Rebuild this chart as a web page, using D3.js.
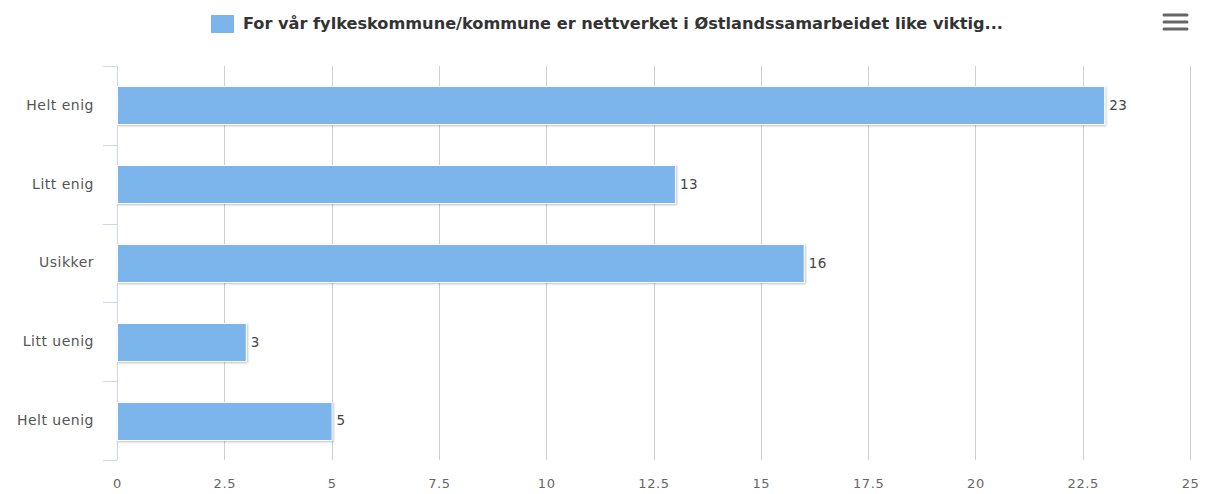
<!DOCTYPE html>
<html>
<head>
<meta charset="utf-8">
<script src="https://cdn.jsdelivr.net/npm/d3@7"></script>
<style>
  body { margin: 0; background: #fff; }
  svg { display: block; font-family: "DejaVu Sans", sans-serif; }
</style>
</head>
<body>
<div id="chart"></div>
<script>
// data
var categories = ["Helt enig", "Litt enig", "Usikker", "Litt uenig", "Helt uenig"];
var values = [23, 13, 16, 3, 5];
var xTicks = [0, 2.5, 5, 7.5, 10, 12.5, 15, 17.5, 20, 22.5, 25];
var seriesName = "For vår fylkeskommune/kommune er nettverket i Østlandssamarbeidet like viktig...";

var W = 1207, H = 494;
var margin = {top: 66, right: 17, bottom: 34, left: 117},
    width = W - margin.left - margin.right,
    height = H - margin.top - margin.bottom;

var svg = d3.select("#chart").append("svg")
    .attr("width", W)
    .attr("height", H);

var defs = svg.append("defs");
var f = defs.append("filter").attr("id", "shadow")
  .attr("x", "-10%").attr("y", "-20%").attr("width", "120%").attr("height", "150%");
f.append("feDropShadow").attr("dx", 1).attr("dy", 1).attr("stdDeviation", 1.2)
  .attr("flood-color", "#000").attr("flood-opacity", 0.25);

var g = svg.append("g")
    .attr("transform", "translate(" + margin.left + "," + margin.top + ")");

var x = d3.scaleLinear().domain([0, 25]).range([0, 1073]);
var y = d3.scaleBand().domain(categories).range([0, height]);

// grid lines
g.append("g").selectAll("line")
  .data(xTicks.slice(1))
  .enter().append("line")
    .attr("x1", function(d) { return Math.round(x(d)) + 0.5; })
    .attr("x2", function(d) { return Math.round(x(d)) + 0.5; })
    .attr("y1", 0).attr("y2", height)
    .attr("stroke", "#cfcfcf").attr("stroke-width", 1);

// x axis labels
var xAxis = g.append("g")
  .attr("transform", "translate(0," + height + ")")
  .call(d3.axisBottom(x).tickValues(xTicks).tickSize(0).tickPadding(19).tickFormat(function(d) { return d; }));
xAxis.select(".domain").remove();
xAxis.attr("font-family", "DejaVu Sans, sans-serif");
xAxis.selectAll("text").attr("fill", "#666").style("font-size", "13px").style("letter-spacing", "0.6px");

// y axis
var yAxis = g.append("g")
  .call(d3.axisLeft(y).tickSize(0).tickPadding(23));
yAxis.select(".domain").remove();
yAxis.attr("font-family", "DejaVu Sans, sans-serif");
yAxis.selectAll("text").attr("fill", "#555").style("font-size", "14px").style("letter-spacing", "0.5px");

g.append("line")
  .attr("x1", 0.5).attr("x2", 0.5).attr("y1", 0).attr("y2", height)
  .attr("stroke", "#ccd6eb");
var bounds = [0].concat(categories.map(function(c) { return y(c) + y.bandwidth(); }));
g.append("g").selectAll("line")
  .data(bounds)
  .enter().append("line")
    .attr("x1", -14).attr("x2", 0)
    .attr("y1", function(d) { return Math.round(d) + 0.5; })
    .attr("y2", function(d) { return Math.round(d) + 0.5; })
    .attr("stroke", "#ccd6eb");

// bars
var barH = 38;
g.selectAll(".bar")
  .data(values)
  .enter().append("rect")
    .attr("class", "bar")
    .attr("x", x(0) + 0.5)
    .attr("y", function(d, i) { return Math.round(y(categories[i]) + y.bandwidth() / 2 - barH / 2) + 0.5; })
    .attr("width", function(d) { return x(d) - x(0); })
    .attr("height", barH)
    .attr("fill", "#7cb5ec")
    .attr("stroke", "#fff")
    .attr("stroke-width", 1)
    .attr("filter", "url(#shadow)");

// labels
g.selectAll(".lbl")
  .data(values)
  .enter().append("text")
    .attr("class", "lbl")
    .attr("x", function(d) { return x(d) + 5; })
    .attr("y", function(d, i) { return y(categories[i]) + y.bandwidth() / 2; })
    .attr("dy", "0.35em")
    .attr("fill", "#444")
    .style("font-size", "13.5px")
    .style("letter-spacing", "0.5px")
    .text(function(d) { return d; });

// legend
var legend = svg.append("g");
legend.append("rect")
  .attr("x", 211).attr("y", 15).attr("width", 23).attr("height", 18)
  .attr("fill", "#7cb5ec");
legend.append("text")
  .attr("x", 243).attr("y", 24).attr("dy", "0.35em")
  .attr("fill", "#333")
  .style("font-family", "'DejaVu Sans Condensed', 'DejaVu Sans', sans-serif")
  .style("font-weight", "bold")
  .style("font-size", "15px")
  .attr("textLength", 760)
  .attr("lengthAdjust", "spacingAndGlyphs")
  .text(seriesName);

// menu icon
var menu = svg.append("g");
[15, 22, 29].forEach(function(yy) {
  menu.append("line")
    .attr("x1", 1164).attr("x2", 1187)
    .attr("y1", yy).attr("y2", yy)
    .attr("stroke", "#666").attr("stroke-width", 3).attr("stroke-linecap", "round");
});
</script>
</body>
</html>
